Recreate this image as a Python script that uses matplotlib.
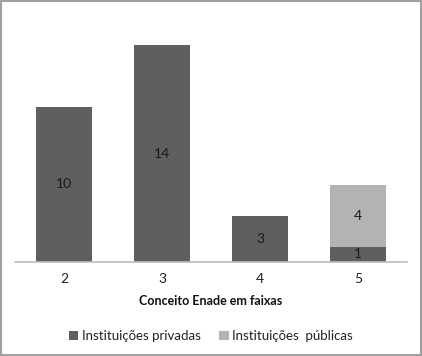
import matplotlib.pyplot as plt
from matplotlib.patches import Rectangle
import numpy as np

# Data
categories = ['2', '3', '4', '5']
privadas = [10, 14, 3, 1]
publicas = [0, 0, 0, 4]
series_names = ['Instituições privadas', 'Instituições  públicas']

DARK = '#5f5f5f'
LIGHT = '#b3b3b3'

plt.rcParams['font.family'] = ['Lato', 'DejaVu Sans']

fig = plt.figure(figsize=(4.22, 3.56), dpi=100)
ax = fig.add_axes([15 / 422, 94 / 356, 392 / 422, 248 / 356])

x = np.arange(len(categories))
ax.bar(x, privadas, width=0.57, color=DARK, label=series_names[0])
ax.bar(x, publicas, width=0.57, bottom=privadas, color=LIGHT, label=series_names[1])

# value labels in the middle of each segment
for i in range(len(categories)):
    if privadas[i]:
        ax.text(x[i], privadas[i] / 2, str(privadas[i]), ha='center', va='center',
                fontsize=10, color='#1a1a1a')
    if publicas[i]:
        ax.text(x[i], privadas[i] + publicas[i] / 2, str(publicas[i]), ha='center',
                va='center', fontsize=10, color='#1a1a1a')

ax.set_xlim(-0.5, len(categories) - 0.5)
ax.set_ylim(0, 16)
ax.set_xticks(x)
ax.set_xticklabels(categories, fontsize=10, color='#222222')
ax.tick_params(axis='x', length=0, pad=8)
ax.set_yticks([])
for s in ['top', 'right', 'left']:
    ax.spines[s].set_visible(False)
ax.spines['bottom'].set_color('#bdbdbd')
ax.spines['bottom'].set_linewidth(1.2)

ax.set_xlabel('Conceito Enade em faixas', fontsize=9, fontweight='bold',
              color='#111111', labelpad=7)

fig.legend(loc='center', bbox_to_anchor=(0.5, 1 - 336 / 356), ncol=2, frameon=False,
           fontsize=9.5, handlelength=0.7, handleheight=0.7, handletextpad=0.3,
           columnspacing=1.4, labelcolor='#222222')

# outer border
fig.patches.append(Rectangle((0.002, 0.003), 0.995, 0.994, transform=fig.transFigure,
                             fill=False, edgecolor='#a0a0a0', linewidth=1.5))

fig.savefig('out.png', dpi=100)
